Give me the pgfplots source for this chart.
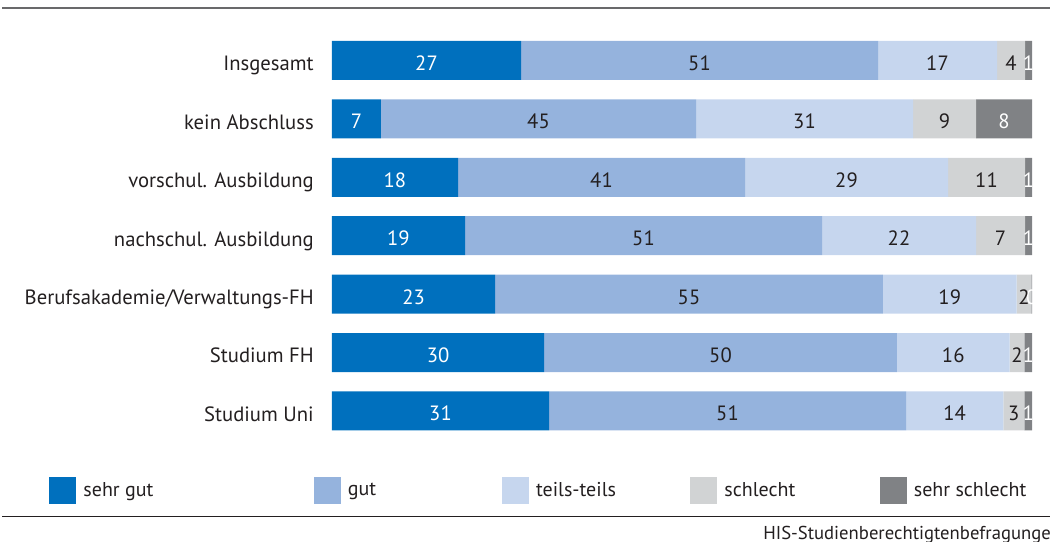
\documentclass[border=0pt]{standalone}
\usepackage{fontspec}
\setmainfont{PT Sans}
\usepackage{pgfplots}
\usepackage{pgfplotstable}
\pgfplotsset{compat=1.18}
\definecolor{c1}{RGB}{0,112,190}
\definecolor{c2}{RGB}{149,179,221}
\definecolor{c3}{RGB}{198,214,238}
\definecolor{c4}{RGB}{209,211,212}
\definecolor{c5}{RGB}{128,130,133}
\definecolor{txt}{RGB}{35,31,32}
\definecolor{topline}{RGB}{105,105,107}
\pgfplotstableread{
row sg g tt s ss
0 27 51 17 4 1
1 7 45 31 9 8
2 18 41 29 11 1
3 19 51 22 7 1
4 23.3 55.4 19.1 2.1 0.1
5 30.3 50.4 16.1 2.1 1.1
6 31 51 13.9 3 1.1
}\data
\newcommand{\lf}{\fontsize{15}{18}\selectfont}
\newcommand{\tf}{\fontsize{15.5}{18}\selectfont}
\begin{document}
\begin{tikzpicture}[x=0.75pt,y=0.75pt]
\useasboundingbox (0,0) rectangle (1050,542);
\draw[line width=1.5pt, topline] (2,533.7) -- (1050,533.7);
\draw[line width=1.1pt, txt] (2,25.3) -- (1050,25.3);
\node[anchor=base west, inner sep=0pt, font=\fontsize{14}{16}\selectfont, text=txt] at (763,2) {HIS-Studienberechtigtenbefragungen};
\begin{scope}
\clip (0,0) rectangle (1032.5,542);
\begin{axis}[
  at={(249pt,76.35pt)}, anchor=south west,
  scale only axis, width=525pt, height=306.7pt,
  xbar stacked, bar width=29.25pt,
  xmin=0, xmax=100, ymin=-0.5, ymax=6.5, y dir=reverse,
  axis line style={draw=none},
  xtick=\empty,
  ytick={0,1,2,3,4,5,6},
  yticklabels={Insgesamt, kein Abschluss, vorschul. Ausbildung, nachschul. Ausbildung, Berufsakademie/Verwaltungs-FH, Studium FH, Studium Uni},
  major tick length=0pt,
  yticklabel style={font=\tf, text=txt, inner sep=0pt, anchor=base east, xshift=-13.5pt, yshift=-7.7pt},
  point meta=explicit,
  nodes near coords={\pgfmathprintnumber[fixed,precision=0,assume math mode=true]{\pgfplotspointmeta}},
  every node near coord/.append style={font=\tf, text=txt, anchor=base, yshift=-7.5pt},
  legend columns=5,
  legend style={at={(-0.4043,-0.123)}, anchor=west, draw=none, fill=none, font=\lf, text=txt,
    inner sep=0pt, /tikz/every odd column/.append style={column sep=3.4pt}},
  legend image code/.code={\fill[#1] (0pt,-10.125pt) rectangle (20.25pt,10.125pt);},
]
\addplot[fill=c1, draw=none, every node near coord/.append style={text=white}] table[x=sg, y=row, meta=sg] {\data};
\addplot[fill=c2, draw=none] table[x=g, y=row, meta=g] {\data};
\addplot[fill=c3, draw=none] table[x=tt, y=row, meta=tt] {\data};
\addplot[fill=c4, draw=none] table[x=s, y=row, meta=s] {\data};
\addplot[fill=c5, draw=none, every node near coord/.append style={text=white}] table[x=ss, y=row, meta=ss] {\data};
\legend{\makebox[170.6pt][l]{sehr gut}, \makebox[113.6pt][l]{gut}, \makebox[113.6pt][l]{teils-teils}, \makebox[114.4pt][l]{schlecht}, sehr schlecht}
\end{axis}
\end{scope}
\end{tikzpicture}
\end{document}
